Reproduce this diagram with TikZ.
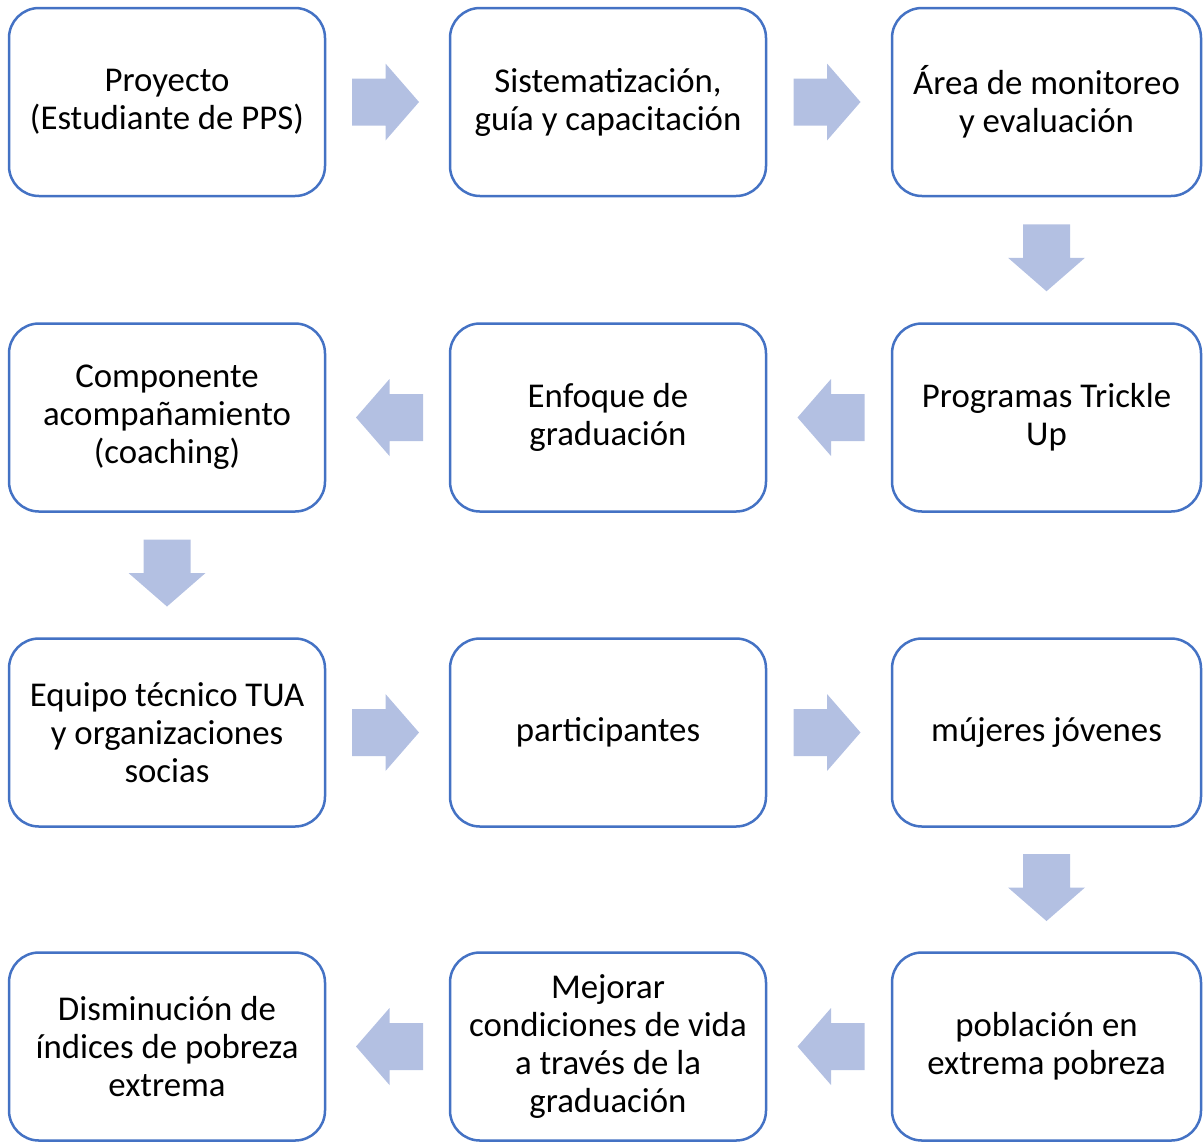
\documentclass[tikz,border=0pt]{standalone}
\usepackage{fontspec}
\setmainfont{Carlito}
\usetikzlibrary{calc}
\definecolor{boxline}{HTML}{4472C4}
\definecolor{arrowfill}{RGB}{179,192,226}
\tikzset{
  stepbox/.style={draw=boxline, line width=1.25pt, rounded corners=15pt,
    fill=white, minimum height=94pt, align=center, inner sep=2pt,
    font=\fontsize{17.4pt}{19pt}\selectfont},
  colA/.style={stepbox, minimum width=158pt},
  colC/.style={stepbox, minimum width=154.5pt},
  blockarrow/.pic={\fill[arrowfill] (-33.5,-23.5) -- (0,-23.5) -- (0,-38.5) -- (33.5,0) -- (0,38.5) -- (0,23.5) -- (-33.5,23.5) -- cycle;}
}
\begin{document}
\begin{tikzpicture}[x=0.5pt,y=-0.5pt]
\useasboundingbox (0,0) rectangle (1203,1142);
% row 1
\node[colA] (n1) at (167,102) {Proyecto\\(Estudiante de PPS)};
\node[colA] (n2) at (608,102) {Sistematización,\\guía y capacitación};
\node[colC] (n3) at (1046.5,102) {Área de monitoreo\\y evaluación};
% row 2
\node[colC] (n4) at (1046.5,417.5) {Programas Trickle\\Up};
\node[colA] (n5) at (608,417.5) {Enfoque de\\graduación};
\node[colA] (n6) at (167,417.5) {Componente\\acompañamiento\\(coaching)};
% row 3
\node[colA] (n7) at (167,732.5) {Equipo técnico TUA\\y organizaciones\\socias};
\node[colA] (n8) at (608,732.5) {participantes};
\node[colC] (n9) at (1046.5,732.5) {mújeres jóvenes};
% row 4
\node[colC] (n10) at (1046.5,1046.5) {población en\\extrema pobreza};
\node[colA] (n11) at (608,1046.5) {Mejorar\\condiciones de vida\\a través de la\\graduación};
\node[colA] (n12) at (167,1046.5) {Disminución de\\índices de pobreza\\extrema};
% arrows
\pic at ($(n1.east)!0.5!(n2.west)+(-2,0)$) {blockarrow};
\pic at ($(n2.east)!0.5!(n3.west)+(-2,0)$) {blockarrow};
\pic[rotate=-90] at ($(n3.south)!0.5!(n4.north)+(0,-2)$) {blockarrow};
\pic[rotate=180] at ($(n4.west)!0.5!(n5.east)+(2,0)$) {blockarrow};
\pic[rotate=180] at ($(n5.west)!0.5!(n6.east)+(2,0)$) {blockarrow};
\pic[rotate=-90] at ($(n6.south)!0.5!(n7.north)+(0,-2)$) {blockarrow};
\pic at ($(n7.east)!0.5!(n8.west)+(-2,0)$) {blockarrow};
\pic at ($(n8.east)!0.5!(n9.west)+(-2,0)$) {blockarrow};
\pic[rotate=-90] at ($(n9.south)!0.5!(n10.north)+(0,-2)$) {blockarrow};
\pic[rotate=180] at ($(n10.west)!0.5!(n11.east)+(2,0)$) {blockarrow};
\pic[rotate=180] at ($(n11.west)!0.5!(n12.east)+(2,0)$) {blockarrow};
\end{tikzpicture}
\end{document}
